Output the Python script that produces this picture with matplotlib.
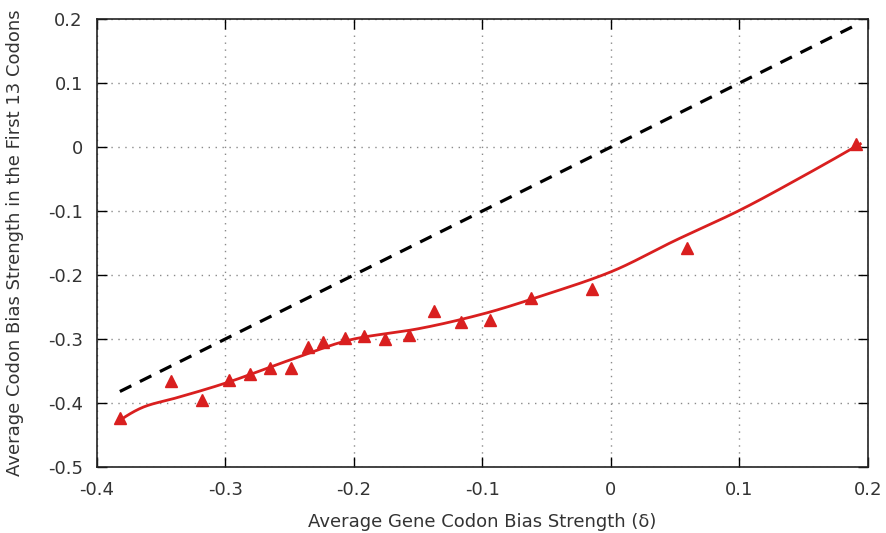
import numpy as np
import matplotlib
matplotlib.use("Agg")
import matplotlib.pyplot as plt

plt.rcParams['font.family'] = ['DejaVu Sans']

# Data points (triangles)
x_pts = [-0.382, -0.342, -0.318, -0.297, -0.281, -0.265, -0.249, -0.236, -0.224,
         -0.207, -0.192, -0.176, -0.157, -0.138, -0.117, -0.094, -0.062, -0.015,
         0.059, 0.191]
y_pts = [-0.424, -0.366, -0.395, -0.364, -0.354, -0.345, -0.345, -0.312, -0.305,
         -0.298, -0.295, -0.300, -0.293, -0.257, -0.273, -0.270, -0.236, -0.222,
         -0.158, 0.004]

# Trend curve (knots)
x_curve = [-0.382, -0.362, -0.340, -0.300, -0.250, -0.200, -0.150, -0.100,
           -0.050, 0.000, 0.050, 0.100, 0.150, 0.194]
y_curve = [-0.427, -0.405, -0.393, -0.369, -0.333, -0.300, -0.284, -0.261,
           -0.230, -0.195, -0.146, -0.099, -0.045, 0.005]

# Diagonal reference (y = x)
x_diag = [-0.382, 0.192]

xticks = [-0.4, -0.3, -0.2, -0.1, 0, 0.1, 0.2]
yticks = [0.2, 0.1, 0, -0.1, -0.2, -0.3, -0.4, -0.5]


def fmt(v):
    return "0" if abs(v) < 1e-9 else f"{v:g}"


def pchip(x, y, xs):
    x = np.asarray(x, float)
    y = np.asarray(y, float)
    h = np.diff(x)
    d = np.diff(y) / h
    n = len(x)
    m = np.zeros(n)
    for k in range(1, n - 1):
        if d[k - 1] * d[k] > 0:
            w1 = 2 * h[k] + h[k - 1]
            w2 = h[k] + 2 * h[k - 1]
            m[k] = (w1 + w2) / (w1 / d[k - 1] + w2 / d[k])
    m[0] = ((2 * h[0] + h[1]) * d[0] - h[0] * d[1]) / (h[0] + h[1])
    m[-1] = ((2 * h[-1] + h[-2]) * d[-1] - h[-1] * d[-2]) / (h[-1] + h[-2])
    idx = np.clip(np.searchsorted(x, xs) - 1, 0, n - 2)
    t = (xs - x[idx]) / h[idx]
    h00 = 2 * t ** 3 - 3 * t ** 2 + 1
    h10 = t ** 3 - 2 * t ** 2 + t
    h01 = -2 * t ** 3 + 3 * t ** 2
    h11 = t ** 3 - t ** 2
    return (h00 * y[idx] + h10 * h[idx] * m[idx]
            + h01 * y[idx + 1] + h11 * h[idx] * m[idx + 1])


fig = plt.figure(figsize=(8.86, 5.33), dpi=100)
ax = fig.add_axes([0.1092, 0.1238, 0.8705, 0.8405])

xs = np.linspace(x_curve[0], x_curve[-1], 500)
ax.plot(xs, pchip(x_curve, y_curve, xs), color="#d91f1f", lw=2, zorder=3)

ax.plot(x_diag, x_diag, color="black", lw=2.3, ls=(0, (4, 3)), zorder=2)
ax.plot(x_pts, y_pts, ls="none", marker="^", color="#d91f1f", ms=8, zorder=4)

ax.set_xlim(-0.4, 0.2)
ax.set_ylim(-0.5, 0.2)
ax.set_xticks(xticks)
ax.set_yticks(yticks)
ax.set_xticklabels([fmt(v) for v in xticks])
ax.set_yticklabels([fmt(v) for v in yticks])
ax.grid(True, color="#8a8a8a", ls=(0, (1, 4)), lw=1)
ax.tick_params(direction="in", length=7, width=1, top=True, right=True,
               labelsize=13, labelcolor="#333333", pad=10)
for s in ax.spines.values():
    s.set_color("#222222")
    s.set_linewidth(1.2)

ax.set_xlabel("Average Gene Codon Bias Strength (δ)", fontsize=13, color="#333333", labelpad=10)
ax.set_ylabel("Average Codon Bias Strength in the First 13 Codons", fontsize=13, color="#333333", labelpad=17)

fig.savefig("out.png", dpi=100)
